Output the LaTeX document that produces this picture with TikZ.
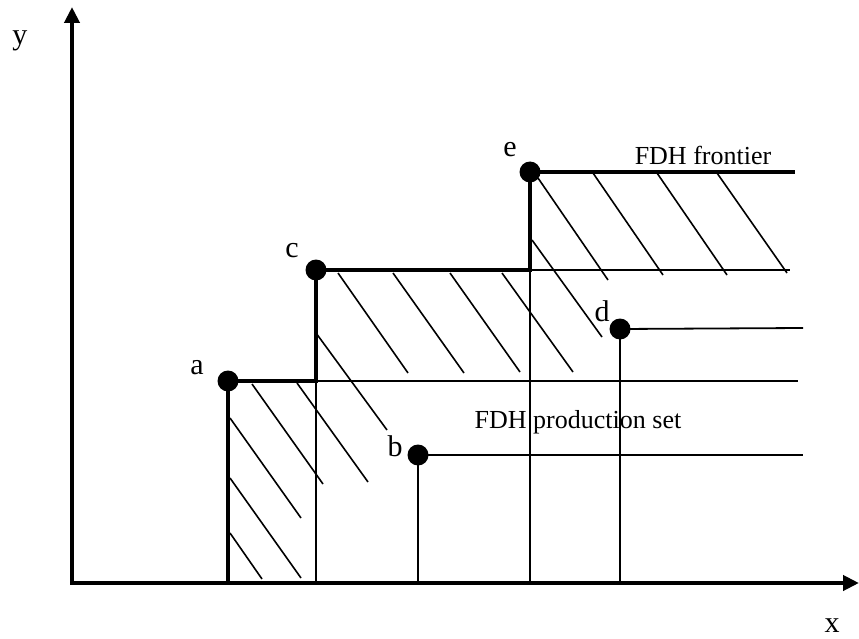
\documentclass[tikz,border=0pt]{standalone}
\usepackage{fontspec}
\setmainfont{Liberation Serif}
\usetikzlibrary{arrows.meta}

\begin{document}
\begin{tikzpicture}[x=1pt, y=-1pt,
  obs/.style={circle,fill,inner sep=0pt,minimum size=21pt},
  lbl/.style={font=\fontsize{30}{34}\selectfont,inner sep=0pt},
  txt/.style={font=\fontsize{26}{30}\selectfont,inner sep=0pt,anchor=base},
  front/.style={line width=3.6pt},
  thinline/.style={line width=1.8pt},
  hatch/.style={line width=1.6pt}]
  \useasboundingbox (0,0) rectangle (859,639);
  % axes
  \coordinate (O) at (72,583);
  \coordinate (ytop) at (72,7);
  \coordinate (xend) at (859,583);
  \draw[line width=4pt,{Triangle[length=16pt,width=15pt]}-{Triangle[length=16pt,width=15pt]}]
    (ytop) -- (O) -- (xend);
  \node[lbl] (ylab) at (20,41) {y};
  \node[lbl] (xlab) at (832,626) {x};
  % observations
  \node[obs] (a) at (228,381) {};
  \node[obs] (c) at (316,270) {};
  \node[obs] (e) at (530,172) {};
  \node[obs] (d) at (620,329) {};
  \node[obs] (b) at (418,455) {};
  \node[lbl] (la) at (197,368) {a};
  \node[lbl] (lc) at (292,251) {c};
  \node[lbl] (le) at (510,150) {e};
  \node[lbl] (ld) at (602,311) {d};
  \node[lbl] (lb) at (395,446) {b};
  % free ends on the right
  \coordinate (aend) at (798,381);
  \coordinate (cend) at (790,270);
  \coordinate (eend) at (795,172);
  \coordinate (dend) at (803,328);
  \coordinate (bend) at (803,455);
  % thin lines
  \draw[thinline] (c.center |- a.center) -- (aend);
  \draw[thinline] (c.center |- a.center) -- (c.center |- O);
  \draw[thinline] (e.center |- c.center) -- (cend);
  \draw[thinline] (e.center |- c.center) -- (e.center |- O);
  \draw[thinline] (d.center |- O) -- (d.center) -- (dend);
  \draw[thinline] (b.center |- O) -- (b.center) -- (bend);
  % FDH frontier
  \draw[front] (a.center |- O) -- (a.center) -- (a.center -| c.center) -- (c.center)
    -- (c.center -| e.center) -- (e.center) -- (eend);
  % hatching
  \foreach \xa/\ya/\xb/\yb in {252/384/323/484, 230/418/301/518, 230/478/301/578, 230/533/262/579,
      297/383/368/482, 316/333/387/430, 338/273/408/373, 393/273/464/373,
      450/273/520/372, 502/273/573/372, 532/240/602/337, 538/178/608/280,
      593/173/663/275, 657/173/727/275, 717/173/787/273}
    \draw[hatch] (\xa,\ya) -- (\xb,\yb);
  % texts
  \node[txt] (tfront) at (703,165) {FDH frontier};
  \node[txt] (tset) at (578,428) {FDH production set};
\end{tikzpicture}
\end{document}
